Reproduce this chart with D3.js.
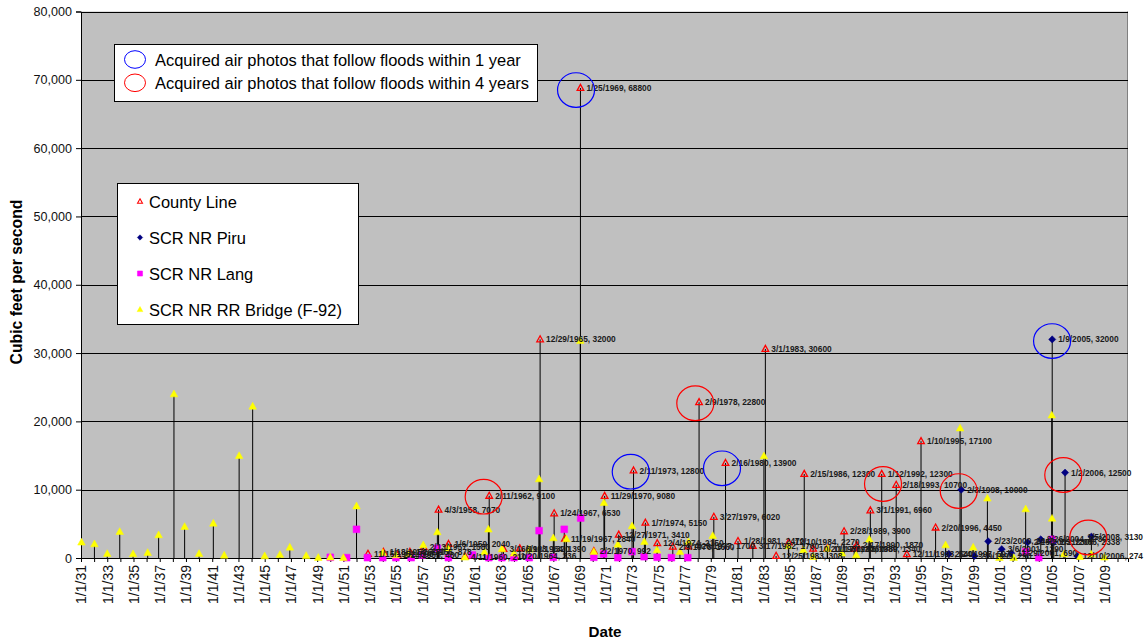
<!DOCTYPE html>
<html><head><meta charset="utf-8">
<script src="https://cdn.jsdelivr.net/npm/d3@7"></script>
<style>
html,body{margin:0;padding:0;background:#fff;}
svg text{font-family:"Liberation Sans",Arial,sans-serif;}
</style></head>
<body><svg id="c" width="1148" height="644"></svg>
<script>
// ---------- DATA ----------
const yTicks = [0,10000,20000,30000,40000,50000,60000,70000,80000];
const xTickYears = d3.range(1931, 2010, 2);

const countyLine = [
 ["11/15/1952",600],["1/18/1954",880],["2/14/1955",480],["1/26/1956",878],["2/13/1957",1580],
 ["4/3/1958",7070],["1/6/1959",2040],["4/11/1960",210],["2/11/1962",9100],["3/16/1963",1320],
 ["6/12/1964",1390],["1/20/1964",336],["12/29/1965",32000],["1/24/1967",6530],["11/19/1967",2840],
 ["1/25/1969",68800],["2/2/1970",992],["11/29/1970",9080],["12/27/1971",3410],["2/11/1973",12800],
 ["1/7/1974",5150],["12/4/1974",2150],["2/9/1976",1660],["4/20/1977",1700],["2/9/1978",22800],
 ["3/27/1979",6020],["2/16/1980",13900],["1/28/1981",2470],["3/17/1982",1760],["3/1/1983",30600],
 ["12/25/1983",308],["12/10/1984",2270],["2/15/1986",12300],["10/20/1986",1360],["11/17/1987",1380],
 ["2/28/1989",3900],["12/6/1989",1340],["2/17/1990",1870],["3/1/1991",6960],["1/12/1992",12300],
 ["2/18/1993",10700],["12/11/1993",540],["1/10/1995",17100],["2/20/1996",4450]
];
const scrPiru = [
 ["2/24/1997",597],["2/3/1998",10000],["2/9/1999",290],["2/23/2000",2440],["3/6/2001",1290],
 ["11/29/2001",690],["2/25/2003",2300],["2/26/2004",2730],["1/9/2005",32000],["2/21/2005",2338],
 ["1/2/2006",12500],["12/10/2006",274],["1/5/2008",3130]
];
const scrLang = [
 ["1/1/1950",100],["4/1/1951",50],["1/1/1952",4200],["11/1/1952",50],["1/1/1954",50],["1/1/1955",50],
 ["3/1/1956",50],["1/1/1957",440],["3/1/1958",1420],["1/1/1959",50],["11/1/1960",440],["2/1/1962",50],
 ["2/1/1963",50],["1/1/1964",50],["3/1/1965",50],["12/1/1965",4000],["1/1/1967",100],["11/1/1967",4200],
 ["2/1/1969",5850],["2/1/1970",100],["11/1/1970",590],["12/1/1971",50],["1/1/1973",930],["12/1/1973",190],
 ["12/1/1974",100],["1/1/1976",50],["4/1/1977",50],["1/1/2003",930],["1/1/2004",50],["1/1/2005",2730]
];
const scrRRBridge = [
 ["1/15/1931",2300],["1/10/1932",2050],["1/1/1933",630],["12/15/1933",3850],["12/20/1934",590],
 ["2/1/1936",780],["12/1/1936",3370],["2/1/1938",24000],["11/25/1938",4590],["1/1/1940",630],
 ["2/1/1941",5070],["12/1/1941",390],["1/20/1943",14970],["2/1/1944",22200],["1/1/1945",290],
 ["3/1/1946",490],["12/1/1946",1560],["3/1/1948",340],["2/1/1949",60],["1/1/1950",100],["1/1/1951",50],
 ["1/1/1952",7600],["1/1/1954",780],["1/1/1955",440],["12/15/1955",600],["2/1/1957",1900],["3/1/1958",3800],
 ["12/15/1958",1420],["4/1/1960",100],["10/1/1961",880],["1/20/1962",4200],["2/1/1963",1320],["1/1/1964",690],
 ["3/1/1965",1270],["12/1/1965",11560],["1/1/1967",2930],["1/1/1968",2780],["1/20/1969",31800],["2/1/1970",930],
 ["11/10/1970",8100],["12/1/1971",2000],["1/1/1973",4680],["12/10/1973",2390],["11/25/1974",1170],
 ["8/25/1976",930],["4/20/1977",2390],["2/25/1979",3260],["1/20/1983",14930],["12/1/1984",1760],
 ["1/20/1986",1170],["10/20/1986",190],["11/25/1987",1360],["1/1/1989",690],["2/1/1990",440],["2/1/1991",2730],
 ["11/25/1996",1900],["1/1/1998",19000],["1/1/1999",1560],["2/1/2000",8740],["1/1/2001",50],["2/1/2002",50],
 ["1/1/2003",7170],["12/28/2004",20900],["1/5/2005",5800],["12/1/2005",590],["2/25/2007",190],["1/1/2008",540],
 ["1/1/2009",100]
];
// annotation ellipses: [centre date, centre value, colour]
const floodCircles = [
 ["9/24/1968",68500,"blue"],["9/10/1961",8970,"red"],["11/25/1972",12630,"blue"],["10/27/1977",22650,"red"],
 ["11/10/1979",13130,"blue"],["2/17/1992",10830,"red"],["11/25/1997",9800,"red"],["1/5/2005",31760,"blue"],
 ["11/13/2005",12150,"red"],["10/10/2007",3000,"red"]
];
const circleLegend = [["blue","Acquired air photos that follow floods within 1 year"],
                      ["red","Acquired air photos that follow floods within 4 years"]];
const seriesNames = ["County Line","SCR NR Piru","SCR NR Lang","SCR NR RR Bridge (F-92)"];

// ---------- CHART ----------
const parse = d3.timeParse("%m/%d/%Y");
const svg = d3.select("#c");
const L=81, R=1128, T=11.5, B=558;
const x = d3.scaleTime().domain([new Date(1931,0,1), new Date(2010,9,20)]).range([L,R]);
const y = d3.scaleLinear().domain([0,80000]).range([B,T]);

// scale a group of texts so that the reference text has the target width
function fitGroup(sel, refNode, target){
  const s = +d3.select(refNode).attr("font-size");
  const w = refNode.getComputedTextLength();
  if (w>0) sel.attr("font-size", s*target/w);
}

svg.append("rect").attr("x",L).attr("y",T).attr("width",R-L).attr("height",B-T).attr("fill","#C0C0C0");
svg.append("line").attr("x1",R-0.5).attr("x2",R-0.5).attr("y1",T).attr("y2",B).attr("stroke","#808080");
// gridlines
svg.append("g").selectAll("line").data(yTicks.filter(d=>d>0)).join("line")
  .attr("x1",L).attr("x2",R).attr("y1",d=>Math.round(y(d))+0.5).attr("y2",d=>Math.round(y(d))+0.5)
  .attr("stroke","#000").attr("stroke-width",1);

// y axis
const yAxis = d3.axisLeft(y).tickValues(yTicks).tickFormat(d3.format(",")).tickSize(5).tickPadding(4);
const gy = svg.append("g").attr("transform",`translate(${L},0)`).call(yAxis);
gy.select(".domain").attr("stroke","#000");
const yt = gy.selectAll("text").attr("font-size",13).attr("fill","#111").attr("font-family","Liberation Sans, Arial, sans-serif");
fitGroup(yt, yt.nodes()[yt.nodes().length-1], 38.5);

// x axis
const xAxis = d3.axisBottom(x).tickValues(d3.range(1931,2011).map(yy=>new Date(yy,0,1)))
  .tickFormat(d=> xTickYears.includes(d.getFullYear()) ? d3.timeFormat("%-m/%-d/%y")(d) : "").tickSize(4).tickPadding(3);
const gx = svg.append("g").attr("transform",`translate(0,${B})`).call(xAxis);
gx.select(".domain").attr("stroke","#000");
const xt = gx.selectAll("text").attr("font-size",13.5).attr("fill","#111").attr("font-family","Liberation Sans, Arial, sans-serif")
  .attr("text-anchor","end").attr("transform","rotate(-90)").attr("x",-7).attr("y",0).attr("dy","0.35em");
fitGroup(xt, xt.nodes()[0], 39);

// series
const series = [
  {name:seriesNames[0], data:countyLine, sym:"tri", fill:"none", stroke:"#FF0000", label:true},
  {name:seriesNames[1], data:scrPiru, sym:"dia", fill:"#000080", stroke:"#000080", label:true},
  {name:seriesNames[2], data:scrLang, sym:"sq", fill:"#FF00FF", stroke:"#FF00FF", label:false},
  {name:seriesNames[3], data:scrRRBridge, sym:"ytri", fill:"#FFFF00", stroke:"#FFFF00", label:false}
];
function symPath(s, k){
  k = k||1;
  if(s==="tri") return `M0,${-3.6*k}L${3.3*k},${2.4*k}L${-3.3*k},${2.4*k}Z`;
  if(s==="ytri") return `M0,${-4*k}L${3.8*k},${2.8*k}L${-3.8*k},${2.8*k}Z`;
  if(s==="dia") return `M0,${-3.6*k}L${3.6*k},0L0,${3.6*k}L${-3.6*k},0Z`;
  return `M${-3.4*k},${-3.4*k}H${3.4*k}V${3.4*k}H${-3.4*k}Z`;
}
const stems = svg.append("g");
series.forEach(s=>{
  stems.selectAll(null).data(s.data).join("line")
    .attr("x1",d=>x(parse(d[0]))).attr("x2",d=>x(parse(d[0])))
    .attr("y1",d=>y(d[1])).attr("y2",B).attr("stroke","#000").attr("stroke-width",1);
});
const marks = svg.append("g");
series.forEach(s=>{
  marks.selectAll(null).data(s.data).join("path")
    .attr("transform",d=>`translate(${x(parse(d[0]))},${y(d[1])})`)
    .attr("d",symPath(s.sym)).attr("fill",s.fill).attr("stroke",s.stroke)
    .attr("stroke-width", s.sym==="tri"?1.3:0.5);
});
const labs = svg.append("g");
series.filter(s=>s.label).forEach(s=>{
  labs.selectAll(null).data(s.data).join("text")
    .attr("x",d=>x(parse(d[0]))+6).attr("y",d=>y(d[1])+3)
    .attr("font-size",8.3).attr("font-weight","bold").attr("fill","#1a1a1a")
    .text(d=>`${d[0]}, ${d[1]}`);
});
const allLabs = labs.selectAll("text");
fitGroup(allLabs, allLabs.filter(d=>d[1]===68800).node(), 65);
// keep labels inside the chart area (as the spreadsheet does)
allLabs.each(function(){
  const w = this.getComputedTextLength(), x0 = +this.getAttribute("x");
  if (x0 + w > 1143) this.setAttribute("x", 1143 - w);
});

// flood circles
svg.append("g").selectAll("ellipse").data(floodCircles).join("ellipse")
  .attr("cx",d=>x(parse(d[0]))).attr("cy",d=>y(d[1])).attr("rx",18.5).attr("ry",17.3)
  .attr("fill","none").attr("stroke",d=>d[2]==="blue"?"#0000FF":"#FF0000").attr("stroke-width",1.2);

// legend 1
const lg1 = svg.append("g");
lg1.append("rect").attr("x",114.5).attr("y",44.5).attr("width",423).attr("height",57).attr("fill","#fff").attr("stroke","#000");
circleLegend.forEach((c,i)=>{
  lg1.append("ellipse").attr("cx",135).attr("cy",59.5+i*23.3).attr("rx",10.5).attr("ry",8.8)
    .attr("fill","none").attr("stroke",c[0]==="blue"?"#0000FF":"#FF0000").attr("stroke-width",1);
  lg1.append("text").attr("x",155).attr("y",65.5+i*23.3).attr("font-size",15).attr("fill","#000").text(c[1]);
});
const lg1t = lg1.selectAll("text");
fitGroup(lg1t, lg1t.nodes()[0], 366);
// legend 2
const lg2 = svg.append("g");
lg2.append("rect").attr("x",117.5).attr("y",183.5).attr("width",241).attr("height",141).attr("fill","#fff").attr("stroke","#000");
series.forEach((s,i)=>{
  const cy = 201.5+i*36;
  lg2.append("path").attr("transform",`translate(140,${cy})`).attr("d",symPath(s.sym,0.75))
    .attr("fill",s.fill).attr("stroke",s.stroke).attr("stroke-width",s.sym==="tri"?1.1:0.5);
  lg2.append("text").attr("x",149).attr("y",cy+6).attr("font-size",15).attr("fill","#000").text(s.name);
});
const lg2t = lg2.selectAll("text");
fitGroup(lg2t, lg2t.nodes()[3], 193);

// axis titles
const yTitle = svg.append("text").attr("transform","translate(22,282) rotate(-90)").attr("text-anchor","middle")
  .attr("font-size",15).attr("font-weight","bold").attr("fill","#000").text("Cubic feet per second");
fitGroup(yTitle, yTitle.node(), 165);
const xTitle = svg.append("text").attr("x",605).attr("y",637).attr("text-anchor","middle")
  .attr("font-size",15).attr("font-weight","bold").attr("fill","#000").text("Date");
fitGroup(xTitle, xTitle.node(), 33);
</script></body></html>
